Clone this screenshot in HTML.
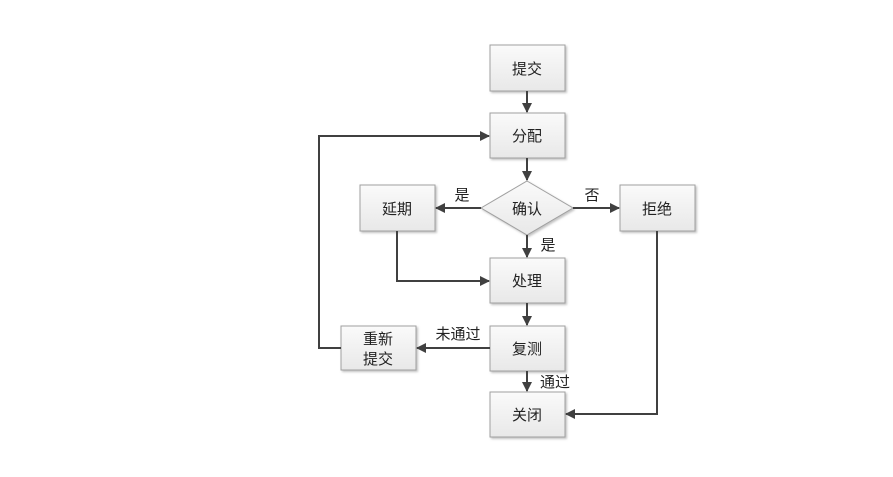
<!DOCTYPE html>
<html><head><meta charset="utf-8"><style>body{margin:0;background:#fff}</style></head><body>
<svg width="893" height="472" xmlns="http://www.w3.org/2000/svg" font-family="Liberation Sans, Noto Sans CJK SC, sans-serif">
<defs>
<linearGradient id="g" x1="0" y1="0" x2="0" y2="1"><stop offset="0" stop-color="#fafafa"/><stop offset="1" stop-color="#e8e8e8"/></linearGradient>
<filter id="s"><feDropShadow dx="1.5" dy="1.5" stdDeviation="1" flood-color="#999" flood-opacity="0.6"/></filter>
<marker id="a" markerWidth="10" markerHeight="10" refX="9" refY="5" orient="auto" markerUnits="userSpaceOnUse"><path d="M0,0 L10,5 L0,10 Z" fill="#404040"/></marker>
</defs>
<g fill="url(#g)" stroke="#a0a0a0" stroke-width="1" filter="url(#s)">
<rect x="490" y="45" width="75" height="46"/>
<rect x="490" y="113" width="75" height="45"/>
<polygon points="527,181 573,208 527,235 481,208"/>
<rect x="360" y="185" width="75" height="46"/>
<rect x="620" y="185" width="75" height="46"/>
<rect x="490" y="258" width="75" height="45"/>
<rect x="490" y="326" width="75" height="45"/>
<rect x="490" y="392" width="75" height="45"/>
<rect x="341" y="326" width="75" height="44"/>
</g>
<g stroke="#404040" stroke-width="2" fill="none" marker-end="url(#a)">
<line x1="527" y1="91" x2="527" y2="112"/>
<line x1="527" y1="158" x2="527" y2="180"/>
<line x1="481" y1="208" x2="436" y2="208"/>
<line x1="573" y1="208" x2="619" y2="208"/>
<line x1="527" y1="235" x2="527" y2="257"/>
<line x1="527" y1="303" x2="527" y2="325"/>
<line x1="527" y1="371" x2="527" y2="391"/>
<line x1="490" y1="348" x2="417" y2="348"/>
<polyline points="341,348 319,348 319,136 489,136"/>
<polyline points="397,231 397,281 489,281"/>
<polyline points="657,231 657,414 566,414"/>
</g>
<g font-size="15" fill="#222" text-anchor="middle">
<text x="527" y="74">提交</text>
<text x="527" y="141">分配</text>
<text x="527" y="214">确认</text>
<text x="397" y="214">延期</text>
<text x="657" y="214">拒绝</text>
<text x="527" y="286">处理</text>
<text x="527" y="354">复测</text>
<text x="527" y="420">关闭</text>
<text x="378" y="344">重新</text>
<text x="378" y="364">提交</text>
<text x="462" y="200">是</text>
<text x="592" y="200">否</text>
<text x="548" y="250">是</text>
<text x="458" y="339">未通过</text>
<text x="555" y="387">通过</text>
</g>
</svg>
</body></html>
